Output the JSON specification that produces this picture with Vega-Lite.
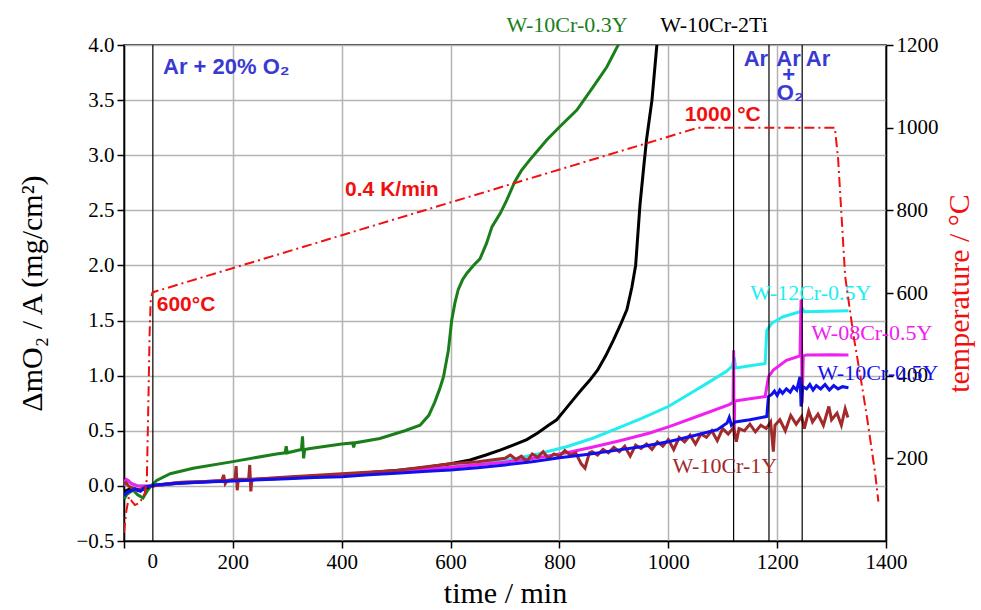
{
"$schema": "https://vega.github.io/schema/vega-lite/v6.json",
"width": 762, "height": 496,
"autosize": "none",
"padding": {"left": 124, "top": 45, "right": 95, "bottom": 69},
"background": "white",
"config": {
  "view": {"stroke": "black", "strokeWidth": 1.5},
  "axis": {"domainColor": "black", "domainWidth": 1.5, "tickColor": "black", "tickWidth": 1.5, "tickSize": 7,
    "labelFont": "Liberation Serif", "labelFontSize": 21, "labelColor": "black", "labelPadding": 3,
    "titleFont": "Liberation Serif", "titleFontSize": 30, "titleFontWeight": "normal", "titleColor": "black",
    "gridColor": "#b4b4b4", "gridWidth": 1.5, "labelFlush": false}
},
"datasets": {
  "vlines": [{"t": 53}, {"t": 1120}, {"t": 1185}, {"t": 1246}],
  "series": [
    {"s":"W-10Cr-0.3Y","t":0,"v":-0.12},{"s":"W-10Cr-0.3Y","t":5,"v":-0.08},{"s":"W-10Cr-0.3Y","t":10,"v":-0.06},{"s":"W-10Cr-0.3Y","t":17,"v":-0.04},{"s":"W-10Cr-0.3Y","t":25,"v":-0.08},{"s":"W-10Cr-0.3Y","t":35,"v":-0.11},{"s":"W-10Cr-0.3Y","t":42,"v":-0.05},{"s":"W-10Cr-0.3Y","t":48,"v":-0.01},{"s":"W-10Cr-0.3Y","t":60,"v":0.05},{"s":"W-10Cr-0.3Y","t":85,"v":0.11},{"s":"W-10Cr-0.3Y","t":127,"v":0.16},{"s":"W-10Cr-0.3Y","t":200,"v":0.22},{"s":"W-10Cr-0.3Y","t":280,"v":0.29},{"s":"W-10Cr-0.3Y","t":296,"v":0.3},{"s":"W-10Cr-0.3Y","t":298,"v":0.36},{"s":"W-10Cr-0.3Y","t":300,"v":0.3},{"s":"W-10Cr-0.3Y","t":326,"v":0.33},{"s":"W-10Cr-0.3Y","t":328,"v":0.45},{"s":"W-10Cr-0.3Y","t":330,"v":0.25},{"s":"W-10Cr-0.3Y","t":332,"v":0.33},{"s":"W-10Cr-0.3Y","t":342,"v":0.34},{"s":"W-10Cr-0.3Y","t":400,"v":0.38},{"s":"W-10Cr-0.3Y","t":420,"v":0.39},{"s":"W-10Cr-0.3Y","t":422,"v":0.35},{"s":"W-10Cr-0.3Y","t":424,"v":0.39},{"s":"W-10Cr-0.3Y","t":470,"v":0.43},{"s":"W-10Cr-0.3Y","t":516,"v":0.5},{"s":"W-10Cr-0.3Y","t":544,"v":0.55},{"s":"W-10Cr-0.3Y","t":560,"v":0.64},{"s":"W-10Cr-0.3Y","t":571,"v":0.76},{"s":"W-10Cr-0.3Y","t":580,"v":0.88},{"s":"W-10Cr-0.3Y","t":587,"v":0.99},{"s":"W-10Cr-0.3Y","t":596,"v":1.23},{"s":"W-10Cr-0.3Y","t":602,"v":1.5},{"s":"W-10Cr-0.3Y","t":608,"v":1.66},{"s":"W-10Cr-0.3Y","t":614,"v":1.78},{"s":"W-10Cr-0.3Y","t":622,"v":1.87},{"s":"W-10Cr-0.3Y","t":630,"v":1.93},{"s":"W-10Cr-0.3Y","t":642,"v":2.0},{"s":"W-10Cr-0.3Y","t":654,"v":2.06},{"s":"W-10Cr-0.3Y","t":666,"v":2.2},{"s":"W-10Cr-0.3Y","t":676,"v":2.35},{"s":"W-10Cr-0.3Y","t":691,"v":2.47},{"s":"W-10Cr-0.3Y","t":703,"v":2.59},{"s":"W-10Cr-0.3Y","t":718,"v":2.76},{"s":"W-10Cr-0.3Y","t":730,"v":2.86},{"s":"W-10Cr-0.3Y","t":746,"v":2.96},{"s":"W-10Cr-0.3Y","t":777,"v":3.14},{"s":"W-10Cr-0.3Y","t":801,"v":3.26},{"s":"W-10Cr-0.3Y","t":832,"v":3.41},{"s":"W-10Cr-0.3Y","t":862,"v":3.62},{"s":"W-10Cr-0.3Y","t":887,"v":3.8},{"s":"W-10Cr-0.3Y","t":908,"v":4.0},{"s":"W-10Cr-0.3Y","t":920,"v":4.15},
    {"s":"W-10Cr-2Ti","t":0,"v":-0.06},{"s":"W-10Cr-2Ti","t":5,"v":-0.04},{"s":"W-10Cr-2Ti","t":15,"v":-0.02},{"s":"W-10Cr-2Ti","t":30,"v":-0.04},{"s":"W-10Cr-2Ti","t":50,"v":0.0},{"s":"W-10Cr-2Ti","t":100,"v":0.025},{"s":"W-10Cr-2Ti","t":200,"v":0.05},{"s":"W-10Cr-2Ti","t":300,"v":0.07},{"s":"W-10Cr-2Ti","t":400,"v":0.1},{"s":"W-10Cr-2Ti","t":500,"v":0.14},{"s":"W-10Cr-2Ti","t":550,"v":0.165},{"s":"W-10Cr-2Ti","t":600,"v":0.2},{"s":"W-10Cr-2Ti","t":636,"v":0.235},{"s":"W-10Cr-2Ti","t":665,"v":0.28},{"s":"W-10Cr-2Ti","t":691,"v":0.325},{"s":"W-10Cr-2Ti","t":715,"v":0.37},{"s":"W-10Cr-2Ti","t":740,"v":0.42},{"s":"W-10Cr-2Ti","t":760,"v":0.48},{"s":"W-10Cr-2Ti","t":780,"v":0.55},{"s":"W-10Cr-2Ti","t":795,"v":0.6},{"s":"W-10Cr-2Ti","t":810,"v":0.69},{"s":"W-10Cr-2Ti","t":825,"v":0.78},{"s":"W-10Cr-2Ti","t":840,"v":0.87},{"s":"W-10Cr-2Ti","t":856,"v":0.96},{"s":"W-10Cr-2Ti","t":870,"v":1.05},{"s":"W-10Cr-2Ti","t":885,"v":1.18},{"s":"W-10Cr-2Ti","t":899,"v":1.32},{"s":"W-10Cr-2Ti","t":912,"v":1.46},{"s":"W-10Cr-2Ti","t":924,"v":1.6},{"s":"W-10Cr-2Ti","t":933,"v":1.8},{"s":"W-10Cr-2Ti","t":940,"v":2.0},{"s":"W-10Cr-2Ti","t":948,"v":2.55},{"s":"W-10Cr-2Ti","t":955,"v":2.9},{"s":"W-10Cr-2Ti","t":960,"v":3.14},{"s":"W-10Cr-2Ti","t":970,"v":3.5},{"s":"W-10Cr-2Ti","t":979,"v":4.0},{"s":"W-10Cr-2Ti","t":985,"v":4.4},
    {"s":"W-12Cr-0.5Y","t":0,"v":0.0},{"s":"W-12Cr-0.5Y","t":4,"v":0.05},{"s":"W-12Cr-0.5Y","t":8,"v":0.04},{"s":"W-12Cr-0.5Y","t":14,"v":0.02},{"s":"W-12Cr-0.5Y","t":25,"v":0.0},{"s":"W-12Cr-0.5Y","t":50,"v":0.0},{"s":"W-12Cr-0.5Y","t":100,"v":0.03},{"s":"W-12Cr-0.5Y","t":200,"v":0.05},{"s":"W-12Cr-0.5Y","t":300,"v":0.07},{"s":"W-12Cr-0.5Y","t":400,"v":0.1},{"s":"W-12Cr-0.5Y","t":500,"v":0.13},{"s":"W-12Cr-0.5Y","t":600,"v":0.17},{"s":"W-12Cr-0.5Y","t":650,"v":0.195},{"s":"W-12Cr-0.5Y","t":709,"v":0.24},{"s":"W-12Cr-0.5Y","t":760,"v":0.29},{"s":"W-12Cr-0.5Y","t":813,"v":0.355},{"s":"W-12Cr-0.5Y","t":860,"v":0.43},{"s":"W-12Cr-0.5Y","t":905,"v":0.52},{"s":"W-12Cr-0.5Y","t":950,"v":0.61},{"s":"W-12Cr-0.5Y","t":1000,"v":0.72},{"s":"W-12Cr-0.5Y","t":1034,"v":0.82},{"s":"W-12Cr-0.5Y","t":1071,"v":0.93},{"s":"W-12Cr-0.5Y","t":1107,"v":1.04},{"s":"W-12Cr-0.5Y","t":1118,"v":1.09},{"s":"W-12Cr-0.5Y","t":1121,"v":1.17},{"s":"W-12Cr-0.5Y","t":1124,"v":1.07},{"s":"W-12Cr-0.5Y","t":1150,"v":1.09},{"s":"W-12Cr-0.5Y","t":1178,"v":1.11},{"s":"W-12Cr-0.5Y","t":1181,"v":1.41},{"s":"W-12Cr-0.5Y","t":1190,"v":1.475},{"s":"W-12Cr-0.5Y","t":1211,"v":1.535},{"s":"W-12Cr-0.5Y","t":1242,"v":1.58},{"s":"W-12Cr-0.5Y","t":1245,"v":1.62},{"s":"W-12Cr-0.5Y","t":1250,"v":1.58},{"s":"W-12Cr-0.5Y","t":1290,"v":1.585},{"s":"W-12Cr-0.5Y","t":1331,"v":1.59},
    {"s":"W-08Cr-0.5Y","t":0,"v":0.0},{"s":"W-08Cr-0.5Y","t":4,"v":0.06},{"s":"W-08Cr-0.5Y","t":8,"v":0.05},{"s":"W-08Cr-0.5Y","t":14,"v":0.02},{"s":"W-08Cr-0.5Y","t":25,"v":0.0},{"s":"W-08Cr-0.5Y","t":50,"v":0.0},{"s":"W-08Cr-0.5Y","t":100,"v":0.03},{"s":"W-08Cr-0.5Y","t":200,"v":0.05},{"s":"W-08Cr-0.5Y","t":300,"v":0.075},{"s":"W-08Cr-0.5Y","t":400,"v":0.1},{"s":"W-08Cr-0.5Y","t":500,"v":0.13},{"s":"W-08Cr-0.5Y","t":600,"v":0.17},{"s":"W-08Cr-0.5Y","t":700,"v":0.215},{"s":"W-08Cr-0.5Y","t":760,"v":0.255},{"s":"W-08Cr-0.5Y","t":813,"v":0.3},{"s":"W-08Cr-0.5Y","t":860,"v":0.35},{"s":"W-08Cr-0.5Y","t":911,"v":0.41},{"s":"W-08Cr-0.5Y","t":966,"v":0.48},{"s":"W-08Cr-0.5Y","t":1003,"v":0.54},{"s":"W-08Cr-0.5Y","t":1064,"v":0.65},{"s":"W-08Cr-0.5Y","t":1113,"v":0.74},{"s":"W-08Cr-0.5Y","t":1119,"v":0.76},{"s":"W-08Cr-0.5Y","t":1120,"v":1.23},{"s":"W-08Cr-0.5Y","t":1121,"v":0.45},{"s":"W-08Cr-0.5Y","t":1122,"v":0.77},{"s":"W-08Cr-0.5Y","t":1150,"v":0.79},{"s":"W-08Cr-0.5Y","t":1178,"v":0.81},{"s":"W-08Cr-0.5Y","t":1184,"v":0.99},{"s":"W-08Cr-0.5Y","t":1193,"v":1.05},{"s":"W-08Cr-0.5Y","t":1217,"v":1.14},{"s":"W-08Cr-0.5Y","t":1242,"v":1.18},{"s":"W-08Cr-0.5Y","t":1244,"v":1.69},{"s":"W-08Cr-0.5Y","t":1246,"v":0.75},{"s":"W-08Cr-0.5Y","t":1248,"v":1.18},{"s":"W-08Cr-0.5Y","t":1254,"v":1.187},{"s":"W-08Cr-0.5Y","t":1300,"v":1.19},{"s":"W-08Cr-0.5Y","t":1331,"v":1.187},
    {"s":"W-10Cr-1Y","t":0,"v":0.02},{"s":"W-10Cr-1Y","t":4,"v":0.03},{"s":"W-10Cr-1Y","t":8,"v":0.0},{"s":"W-10Cr-1Y","t":15,"v":-0.02},{"s":"W-10Cr-1Y","t":25,"v":-0.04},{"s":"W-10Cr-1Y","t":40,"v":-0.01},{"s":"W-10Cr-1Y","t":50,"v":0.0},{"s":"W-10Cr-1Y","t":100,"v":0.03},{"s":"W-10Cr-1Y","t":150,"v":0.04},{"s":"W-10Cr-1Y","t":180,"v":0.05},{"s":"W-10Cr-1Y","t":183,"v":0.1},{"s":"W-10Cr-1Y","t":186,"v":0.02},{"s":"W-10Cr-1Y","t":190,"v":0.05},{"s":"W-10Cr-1Y","t":204,"v":0.06},{"s":"W-10Cr-1Y","t":206,"v":0.18},{"s":"W-10Cr-1Y","t":208,"v":-0.04},{"s":"W-10Cr-1Y","t":210,"v":0.06},{"s":"W-10Cr-1Y","t":229,"v":0.06},{"s":"W-10Cr-1Y","t":231,"v":0.19},{"s":"W-10Cr-1Y","t":233,"v":-0.05},{"s":"W-10Cr-1Y","t":235,"v":0.06},{"s":"W-10Cr-1Y","t":300,"v":0.08},{"s":"W-10Cr-1Y","t":400,"v":0.11},{"s":"W-10Cr-1Y","t":500,"v":0.14},{"s":"W-10Cr-1Y","t":600,"v":0.2},{"s":"W-10Cr-1Y","t":650,"v":0.22},
    {"s":"W-10Cr-1Y","t":700,"v":0.25},{"s":"W-10Cr-1Y","t":710,"v":0.28},{"s":"W-10Cr-1Y","t":720,"v":0.24},{"s":"W-10Cr-1Y","t":730,"v":0.27},{"s":"W-10Cr-1Y","t":740,"v":0.22},{"s":"W-10Cr-1Y","t":750,"v":0.29},{"s":"W-10Cr-1Y","t":760,"v":0.26},{"s":"W-10Cr-1Y","t":770,"v":0.31},{"s":"W-10Cr-1Y","t":780,"v":0.25},{"s":"W-10Cr-1Y","t":790,"v":0.29},{"s":"W-10Cr-1Y","t":800,"v":0.27},{"s":"W-10Cr-1Y","t":810,"v":0.32},{"s":"W-10Cr-1Y","t":820,"v":0.28},{"s":"W-10Cr-1Y","t":830,"v":0.3},{"s":"W-10Cr-1Y","t":840,"v":0.2},{"s":"W-10Cr-1Y","t":847,"v":0.16},{"s":"W-10Cr-1Y","t":855,"v":0.3},{"s":"W-10Cr-1Y","t":860,"v":0.31},{"s":"W-10Cr-1Y","t":870,"v":0.28},{"s":"W-10Cr-1Y","t":880,"v":0.33},{"s":"W-10Cr-1Y","t":890,"v":0.3},{"s":"W-10Cr-1Y","t":900,"v":0.35},{"s":"W-10Cr-1Y","t":910,"v":0.31},{"s":"W-10Cr-1Y","t":920,"v":0.36},{"s":"W-10Cr-1Y","t":930,"v":0.27},{"s":"W-10Cr-1Y","t":940,"v":0.37},{"s":"W-10Cr-1Y","t":950,"v":0.34},{"s":"W-10Cr-1Y","t":960,"v":0.38},{"s":"W-10Cr-1Y","t":970,"v":0.33},{"s":"W-10Cr-1Y","t":980,"v":0.4},{"s":"W-10Cr-1Y","t":990,"v":0.36},{"s":"W-10Cr-1Y","t":1000,"v":0.42},{"s":"W-10Cr-1Y","t":1010,"v":0.33},{"s":"W-10Cr-1Y","t":1020,"v":0.44},{"s":"W-10Cr-1Y","t":1030,"v":0.4},{"s":"W-10Cr-1Y","t":1040,"v":0.46},{"s":"W-10Cr-1Y","t":1050,"v":0.38},{"s":"W-10Cr-1Y","t":1060,"v":0.47},{"s":"W-10Cr-1Y","t":1070,"v":0.44},{"s":"W-10Cr-1Y","t":1080,"v":0.5},{"s":"W-10Cr-1Y","t":1090,"v":0.41},{"s":"W-10Cr-1Y","t":1100,"v":0.52},{"s":"W-10Cr-1Y","t":1110,"v":0.47},{"s":"W-10Cr-1Y","t":1120,"v":0.53},{"s":"W-10Cr-1Y","t":1125,"v":0.4},{"s":"W-10Cr-1Y","t":1130,"v":0.52},{"s":"W-10Cr-1Y","t":1140,"v":0.5},{"s":"W-10Cr-1Y","t":1150,"v":0.56},{"s":"W-10Cr-1Y","t":1160,"v":0.49},{"s":"W-10Cr-1Y","t":1170,"v":0.55},{"s":"W-10Cr-1Y","t":1180,"v":0.52},{"s":"W-10Cr-1Y","t":1188,"v":0.58},{"s":"W-10Cr-1Y","t":1193,"v":0.31},{"s":"W-10Cr-1Y","t":1196,"v":0.55},{"s":"W-10Cr-1Y","t":1205,"v":0.6},{"s":"W-10Cr-1Y","t":1215,"v":0.5},{"s":"W-10Cr-1Y","t":1225,"v":0.64},{"s":"W-10Cr-1Y","t":1235,"v":0.56},{"s":"W-10Cr-1Y","t":1245,"v":0.63},{"s":"W-10Cr-1Y","t":1250,"v":0.52},{"s":"W-10Cr-1Y","t":1258,"v":0.68},{"s":"W-10Cr-1Y","t":1265,"v":0.58},{"s":"W-10Cr-1Y","t":1275,"v":0.65},{"s":"W-10Cr-1Y","t":1285,"v":0.55},{"s":"W-10Cr-1Y","t":1295,"v":0.72},{"s":"W-10Cr-1Y","t":1300,"v":0.6},{"s":"W-10Cr-1Y","t":1310,"v":0.66},{"s":"W-10Cr-1Y","t":1318,"v":0.55},{"s":"W-10Cr-1Y","t":1325,"v":0.7},{"s":"W-10Cr-1Y","t":1330,"v":0.62},
    {"s":"W-10Cr-0.5Y","t":0,"v":-0.09},{"s":"W-10Cr-0.5Y","t":5,"v":-0.06},{"s":"W-10Cr-0.5Y","t":10,"v":-0.05},{"s":"W-10Cr-0.5Y","t":20,"v":-0.03},{"s":"W-10Cr-0.5Y","t":30,"v":-0.05},{"s":"W-10Cr-0.5Y","t":40,"v":-0.01},{"s":"W-10Cr-0.5Y","t":50,"v":0.0},{"s":"W-10Cr-0.5Y","t":60,"v":0.01},{"s":"W-10Cr-0.5Y","t":100,"v":0.025},{"s":"W-10Cr-0.5Y","t":150,"v":0.035},{"s":"W-10Cr-0.5Y","t":200,"v":0.045},{"s":"W-10Cr-0.5Y","t":250,"v":0.055},{"s":"W-10Cr-0.5Y","t":300,"v":0.065},{"s":"W-10Cr-0.5Y","t":350,"v":0.075},{"s":"W-10Cr-0.5Y","t":400,"v":0.083},{"s":"W-10Cr-0.5Y","t":450,"v":0.1},{"s":"W-10Cr-0.5Y","t":500,"v":0.115},{"s":"W-10Cr-0.5Y","t":550,"v":0.13},{"s":"W-10Cr-0.5Y","t":600,"v":0.144},{"s":"W-10Cr-0.5Y","t":650,"v":0.165},{"s":"W-10Cr-0.5Y","t":700,"v":0.19},{"s":"W-10Cr-0.5Y","t":750,"v":0.22},{"s":"W-10Cr-0.5Y","t":800,"v":0.255},{"s":"W-10Cr-0.5Y","t":850,"v":0.285},{"s":"W-10Cr-0.5Y","t":900,"v":0.32},{"s":"W-10Cr-0.5Y","t":950,"v":0.355},{"s":"W-10Cr-0.5Y","t":1000,"v":0.4},{"s":"W-10Cr-0.5Y","t":1050,"v":0.46},{"s":"W-10Cr-0.5Y","t":1090,"v":0.51},{"s":"W-10Cr-0.5Y","t":1108,"v":0.57},{"s":"W-10Cr-0.5Y","t":1112,"v":0.62},{"s":"W-10Cr-0.5Y","t":1116,"v":0.55},{"s":"W-10Cr-0.5Y","t":1123,"v":0.58},{"s":"W-10Cr-0.5Y","t":1150,"v":0.6},{"s":"W-10Cr-0.5Y","t":1181,"v":0.63},{"s":"W-10Cr-0.5Y","t":1184,"v":0.81},{"s":"W-10Cr-0.5Y","t":1190,"v":0.83},{"s":"W-10Cr-0.5Y","t":1195,"v":0.86},{"s":"W-10Cr-0.5Y","t":1200,"v":0.82},{"s":"W-10Cr-0.5Y","t":1205,"v":0.87},{"s":"W-10Cr-0.5Y","t":1210,"v":0.84},{"s":"W-10Cr-0.5Y","t":1217,"v":0.88},{"s":"W-10Cr-0.5Y","t":1224,"v":0.85},{"s":"W-10Cr-0.5Y","t":1230,"v":0.9},{"s":"W-10Cr-0.5Y","t":1236,"v":0.87},{"s":"W-10Cr-0.5Y","t":1242,"v":0.99},{"s":"W-10Cr-0.5Y","t":1244,"v":0.72},{"s":"W-10Cr-0.5Y","t":1247,"v":0.9},{"s":"W-10Cr-0.5Y","t":1254,"v":0.88},{"s":"W-10Cr-0.5Y","t":1260,"v":0.92},{"s":"W-10Cr-0.5Y","t":1266,"v":0.87},{"s":"W-10Cr-0.5Y","t":1272,"v":0.91},{"s":"W-10Cr-0.5Y","t":1280,"v":0.88},{"s":"W-10Cr-0.5Y","t":1288,"v":0.92},{"s":"W-10Cr-0.5Y","t":1296,"v":0.87},{"s":"W-10Cr-0.5Y","t":1304,"v":0.91},{"s":"W-10Cr-0.5Y","t":1312,"v":0.88},{"s":"W-10Cr-0.5Y","t":1320,"v":0.9},{"s":"W-10Cr-0.5Y","t":1331,"v":0.89}
  ],
  "temp": [
    {"t":0,"T":20},{"t":4,"T":70},{"t":9,"T":107},{"t":15,"T":95},{"t":20,"T":87},{"t":29,"T":92},{"t":38,"T":115},{"t":42,"T":150},{"t":45,"T":350},{"t":47,"T":500},{"t":49,"T":580},{"t":52,"T":600},{"t":56,"T":603},{"t":1055,"T":1000},{"t":1306,"T":1000},{"t":1312,"T":925},{"t":1325,"T":640},{"t":1340,"T":500},{"t":1355,"T":382},{"t":1365,"T":300},{"t":1380,"T":165},{"t":1386,"T":95}
  ],
  "serieslabels": [
    {"s":"W-10Cr-0.3Y","t":814,"v":4.18},{"s":"W-10Cr-2Ti","t":1084,"v":4.18},{"s":"W-12Cr-0.5Y","t":1262,"v":1.75},{"s":"W-08Cr-0.5Y","t":1374,"v":1.387},{"s":"W-10Cr-0.5Y","t":1385,"v":1.024},{"s":"W-10Cr-1Y","t":1104,"v":0.18}
  ],
  "bluenotes": [
    {"text":"Ar + 20% O₂","t":188,"v":3.8},{"text":"Ar","t":1161,"v":3.87},{"text":"Ar","t":1221,"v":3.87},{"text":"+","t":1221,"v":3.725},{"text":"O₂","t":1224,"v":3.565},{"text":"Ar","t":1275,"v":3.87}
  ],
  "rednotes": [
    {"text":"600°C","t":114,"v":1.64},{"text":"0.4 K/min","t":492,"v":2.684},{"text":"1000 °C","t":1100,"v":3.365}
  ],
  "zero": [{"text":"0","t":53,"v":-0.5}]
},
"layer": [
  {
    "layer": [
      {
        "data": {"name": "series"},
        "mark": {"type": "line", "strokeWidth": 3, "clip": true},
        "encoding": {
          "x": {"field": "t", "type": "quantitative", "scale": {"domain": [0, 1400], "nice": false},
            "axis": {"title": "time / min", "values": [0,200,400,600,800,1000,1200,1400], "format": "d", "labelExpr": "datum.value == 0 ? '' : datum.label", "grid": true, "titlePadding": 6}},
          "y": {"field": "v", "type": "quantitative", "scale": {"domain": [-0.5, 4.0], "nice": false},
            "axis": {"title": "ΔmO₂ / A (mg/cm²)", "values": [-0.5,0,0.5,1,1.5,2,2.5,3,3.5,4], "format": ".1f", "grid": true, "titlePadding": 28}},
          "color": {"field": "s", "type": "nominal", "legend": null,
            "scale": {"domain": ["W-10Cr-0.3Y","W-10Cr-2Ti","W-12Cr-0.5Y","W-08Cr-0.5Y","W-10Cr-1Y","W-10Cr-0.5Y"],
                      "range": ["#1a7f1a","#000000","#22eef0","#f020f0","#a22a2a","#1010ee"]}},
          "order": {"field": "t", "type": "quantitative"}
        }
      },
      {
        "data": {"name": "vlines"},
        "mark": {"type": "rule", "color": "black", "strokeWidth": 1.2},
        "encoding": {"x": {"field": "t", "type": "quantitative"}}
      },
      {
        "data": {"name": "serieslabels"},
        "mark": {"type": "text", "font": "Liberation Serif", "fontSize": 22, "baseline": "middle", "align": "center"},
        "encoding": {
          "x": {"field": "t", "type": "quantitative"},
          "y": {"field": "v", "type": "quantitative"},
          "text": {"field": "s"},
          "color": {"field": "s", "type": "nominal", "legend": null}
        }
      },
      {
        "data": {"name": "bluenotes"},
        "mark": {"type": "text", "font": "Liberation Sans", "fontWeight": "bold", "fontSize": 22, "baseline": "middle", "align": "center", "color": "#3a3ad2"},
        "encoding": {
          "x": {"field": "t", "type": "quantitative"},
          "y": {"field": "v", "type": "quantitative"},
          "text": {"field": "text"}
        }
      },
      {
        "data": {"name": "rednotes"},
        "mark": {"type": "text", "font": "Liberation Sans", "fontWeight": "bold", "fontSize": 21, "baseline": "middle", "align": "center", "color": "#f01010"},
        "encoding": {
          "x": {"field": "t", "type": "quantitative"},
          "y": {"field": "v", "type": "quantitative"},
          "text": {"field": "text"}
        }
      },
      {
        "data": {"name": "zero"},
        "mark": {"type": "text", "font": "Liberation Serif", "fontSize": 21, "baseline": "middle", "align": "center", "dy": 21, "color": "black"},
        "encoding": {
          "x": {"field": "t", "type": "quantitative"},
          "y": {"field": "v", "type": "quantitative"},
          "text": {"field": "text"}
        }
      }
    ]
  },
  {
    "data": {"name": "temp"},
    "mark": {"type": "line", "color": "#f01010", "strokeWidth": 2, "strokeDash": [10, 4, 2, 4], "clip": true},
    "encoding": {
      "x": {"field": "t", "type": "quantitative", "scale": {"domain": [0, 1400], "nice": false},
        "axis": {"title": "time / min", "values": [0,200,400,600,800,1000,1200,1400], "format": "d", "labelExpr": "datum.value == 0 ? '' : datum.label", "grid": true, "titlePadding": 6}},
      "y": {"field": "T", "type": "quantitative", "scale": {"domain": [0, 1200], "nice": false},
        "axis": {"orient": "right", "title": "temperature / °C", "titleColor": "#f01010", "values": [200,400,600,800,1000,1200], "format": "d", "grid": false, "titleAngle": 270, "titleBaseline": "top", "titlePadding": 6}}
    }
  }
],
"resolve": {"scale": {"y": "independent"}}
}
